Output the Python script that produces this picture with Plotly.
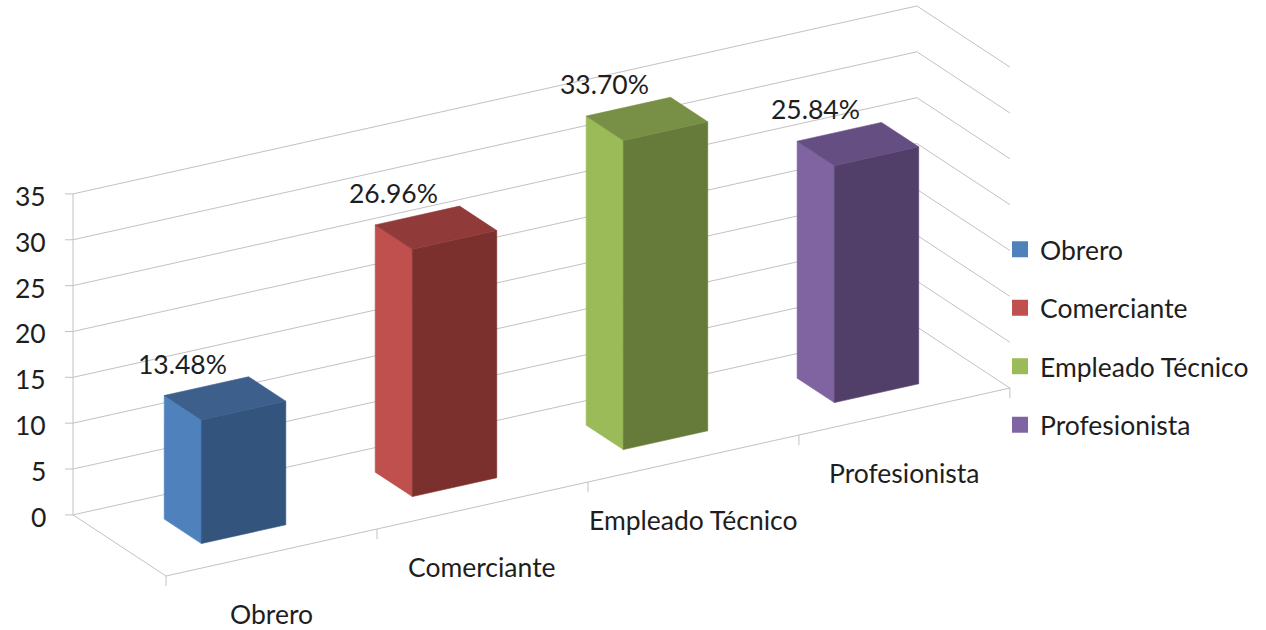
import math
import plotly.graph_objects as go

# Occupation shares (%)
categories = ["Obrero", "Comerciante", "Empleado Técnico", "Profesionista"]
values = [13.48, 26.96, 33.70, 25.84]
value_labels = ["13.48%", "26.96%", "33.70%", "25.84%"]
z_ticks = [0, 5, 10, 15, 20, 25, 30, 35]

# Face colours: side (light), front (dark), top (medium)
side_colors = ["#4F81BD", "#C0504D", "#9BBB59", "#8064A2"]
front_colors = ["#33547D", "#7B302E", "#667A3A", "#523F69"]
top_colors = ["#3C5F8C", "#903B39", "#789045", "#654E82"]

FONT = "Lato"
FONT_SIZE = 26.5
TEXT_COLOR = "#1e1e1e"
GRID_COLOR = "#c2c2c2"

# Orthographic view of the 3D box (category axis, depth axis, value axis)
AZIMUTH = math.radians(30.2)
ELEVATION = math.radians(22.5)
UNIT_X = 244.1     # length of one category slot
UNIT_Y = 184.8     # full depth of the floor
UNIT_Z = 9.926     # one value unit


def proj(a, b, z):
    """Project (category pos, depth, value) onto the drawing plane."""
    wx, wy, wz = a * UNIT_X, b * UNIT_Y, z * UNIT_Z
    px = wx * math.cos(AZIMUTH) - wy * math.sin(AZIMUTH)
    py = (wx * math.sin(AZIMUTH) + wy * math.cos(AZIMUTH)) * math.sin(ELEVATION) \
        + wz * math.cos(ELEVATION)
    return px, py


n = len(categories)
z_max = z_ticks[-1]
half_w = 0.2               # half bar width (category units)
depth0, depth1 = 0.3, 0.7  # bar extent along the depth axis

fig = go.Figure()


def add_path(points, color, width=1.0, fill=None):
    xs = [p[0] if p is not None else None for p in points]
    ys = [p[1] if p is not None else None for p in points]
    if fill:
        fig.add_trace(go.Scatter(
            x=xs, y=ys, mode="lines", fill="toself", fillcolor=fill,
            line=dict(color=fill, width=0.6), hoverinfo="skip", showlegend=False,
        ))
    else:
        fig.add_trace(go.Scatter(
            x=xs, y=ys, mode="lines", line=dict(color=color, width=width),
            hoverinfo="skip", showlegend=False,
        ))


# Gridlines on the back wall and right wall, axis lines and tick marks
grid = []
for t in z_ticks:
    grid += [proj(0, 1, t), proj(n, 1, t), proj(n, 0, t), None]
grid += [proj(0, 1, 0), proj(0, 1, z_max), None]             # value axis
grid += [proj(0, 1, 0), proj(0, 0, 0), proj(n, 0, 0), None]  # floor edges
TICK_PX = 8
for t in z_ticks:
    px, py = proj(0, 1, t)
    grid += [(px, py), (px - TICK_PX, py), None]
for k in range(n + 1):
    grid += [proj(k, 0, 0), proj(k, 0, -1.1), None]
add_path(grid, GRID_COLOR, width=1.0)

# Columns: left side, front and top faces
for i, v in enumerate(values):
    c = i + 0.5
    x0, x1 = c - half_w, c + half_w
    left = [proj(x0, depth0, 0), proj(x0, depth1, 0), proj(x0, depth1, v),
            proj(x0, depth0, v), proj(x0, depth0, 0)]
    front = [proj(x0, depth0, 0), proj(x1, depth0, 0), proj(x1, depth0, v),
             proj(x0, depth0, v), proj(x0, depth0, 0)]
    top = [proj(x0, depth0, v), proj(x1, depth0, v), proj(x1, depth1, v),
           proj(x0, depth1, v), proj(x0, depth0, v)]
    add_path(left, None, fill=side_colors[i])
    add_path(front, None, fill=front_colors[i])
    add_path(top, None, fill=top_colors[i])

# Legend entries
for i, cat in enumerate(categories):
    fig.add_trace(go.Scatter(
        x=[None], y=[None], mode="markers",
        marker=dict(symbol="square", size=16, color=side_colors[i]),
        name=cat, legendgroup=cat, showlegend=True,
    ))

font = dict(family=FONT, size=FONT_SIZE, color=TEXT_COLOR)
annotations = []
for t in z_ticks:
    px, py = proj(0, 1, t)
    annotations.append(dict(x=px, y=py, text=str(t), showarrow=False,
                            xanchor="right", yanchor="middle", xshift=-25,
                            yshift=-2, font=font))
for i, (v, lab) in enumerate(zip(values, value_labels)):
    px, py = proj(i + 0.5, 1, v)
    annotations.append(dict(x=px, y=py, text=lab, showarrow=False,
                            xanchor="center", yanchor="middle",
                            xshift=4, yshift=4, font=font))
for i, cat in enumerate(categories):
    px, py = proj(i + 0.5, 0, 0)
    annotations.append(dict(x=px, y=py, text=cat, showarrow=False,
                            xanchor="center", yanchor="middle", yshift=-61,
                            borderpad=0, font=font))

W, H = 1266, 630
ORIGIN = (166, 576)   # floor front-left corner on the page
fig.update_layout(
    width=W, height=H,
    margin=dict(l=0, r=0, t=0, b=0),
    paper_bgcolor="white", plot_bgcolor="white",
    font=font,
    showlegend=True,
    legend=dict(x=0.7899, xanchor="left", y=0.465, yanchor="middle",
                tracegroupgap=21, font=font, bgcolor="rgba(0,0,0,0)"),
    xaxis=dict(range=[-ORIGIN[0], W - ORIGIN[0]], visible=False, fixedrange=True),
    yaxis=dict(range=[-(H - ORIGIN[1]), ORIGIN[1]], visible=False, fixedrange=True),
    annotations=annotations,
)

fig.write_html("out.html", config=dict(displayModeBar=False))
